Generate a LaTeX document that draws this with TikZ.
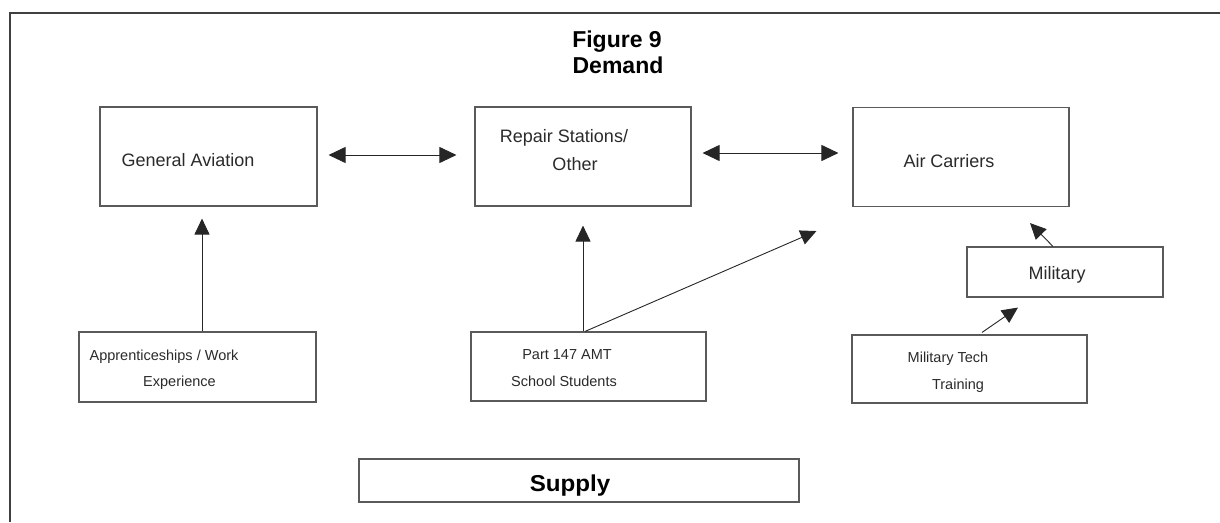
\documentclass[tikz,border=0pt]{standalone}
\usepackage{fontspec}
\setmainfont{Liberation Sans}
\usetikzlibrary{arrows.meta}
\definecolor{boxline}{HTML}{5A5A5A}
\definecolor{txt}{HTML}{2A2A2A}
\tikzset{
  box/.style={draw=boxline, line width=1.1pt, inner sep=0pt, minimum width=#1},
  lbl/.style={anchor=base, inner sep=0pt, text=txt, font=\fontsize{18}{20}\selectfont},
  slbl/.style={anchor=base, inner sep=0pt, text=txt, font=\fontsize{14.5}{16}\selectfont},
  conn/.style={line width=0.9pt, draw=black!85, -{Triangle[length=16pt, width=15pt]}},
  biconn/.style={line width=0.9pt, draw=black!85, {Triangle[length=17pt, width=16pt]}-{Triangle[length=17pt, width=16pt]}},
  frameline/.style={draw=black!75, line width=1.6pt}
}
\begin{document}
\begin{tikzpicture}[x=1pt, y=-1pt]
\useasboundingbox (0,0) rectangle (1220,522);
\draw[frameline] (10,522) -- (10,13) -- (1220,13);

% title
\node[anchor=base, inner sep=0pt, font=\bfseries\fontsize{23}{25}\selectfont] (t1) at (617,47) {Figure 9};
\node[anchor=base, inner sep=0pt, font=\bfseries\fontsize{23}{25}\selectfont] (t2) at (618,73) {Demand};

% demand boxes
\node[box=217pt, minimum height=99pt] (ga) at (208.5,156.5) {};
\node[box=216pt, minimum height=99pt] (rs) at (583,156.5) {};
\node[box=216pt, minimum height=99pt] (ac) at (961,157) {};
\node[lbl] (gat) at (188,166) {General Aviation};
\node[lbl] (rst1) at (564,142) {Repair Stations/};
\node[lbl] (rst2) at (575,170) {Other};
\node[lbl] (act) at (949,167) {Air Carriers};

% supply boxes
\node[box=237pt, minimum height=70pt] (app) at (197.5,367) {};
\node[slbl] (appt1) at (164,360) {Apprenticeships / Work};
\node[slbl] (appt2) at (179.5,386) {Experience};
\node[box=235pt, minimum height=69pt] (part) at (588.5,366.5) {};
\node[slbl] (partt1) at (567,359) {Part 147 AMT};
\node[slbl] (partt2) at (564,386) {School Students};
\node[box=196pt, minimum height=50pt] (mil) at (1065,272) {};
\node[lbl] (milt) at (1057,279) {Military};
\node[box=235pt, minimum height=68pt] (mtt) at (969.5,369) {};
\node[slbl] (mttt1) at (948,362) {Military Tech};
\node[slbl] (mttt2) at (958,389) {Training};

% supply label
\node[box=440pt, minimum height=43pt] (sup) at (579,480.5) {};
\node[anchor=base, inner sep=0pt, font=\bfseries\fontsize{23}{25}\selectfont] (supt) at (570,491) {\scalebox{1.05}[1]{Supply}};

% connectors
\draw[biconn] ([xshift=11pt, yshift=1.5pt]ga.east) -- ([xshift=-18pt, yshift=1.5pt]rs.west);
\draw[biconn] ([xshift=11pt, yshift=3.5pt]rs.east) -- ([xshift=-14pt, yshift=4pt]ac.west);
\draw[conn] ([xshift=4.5pt]app.north) -- ([xshift=-6.5pt, yshift=-12pt]ga.south);
\draw[conn] ([xshift=-5.5pt]part.north) -- ([yshift=-19pt]rs.south);
\draw[conn] ([xshift=-3.5pt]part.north) -- ([xshift=-36pt, yshift=-24pt]ac.south west);
\draw[conn] ([xshift=12.5pt, yshift=2pt]mtt.north) -- ([xshift=-47pt, yshift=-10pt]mil.south);
\draw[conn] ([xshift=-12pt]mil.north) -- ([xshift=69pt, yshift=-16pt]ac.south);
\end{tikzpicture}
\end{document}
